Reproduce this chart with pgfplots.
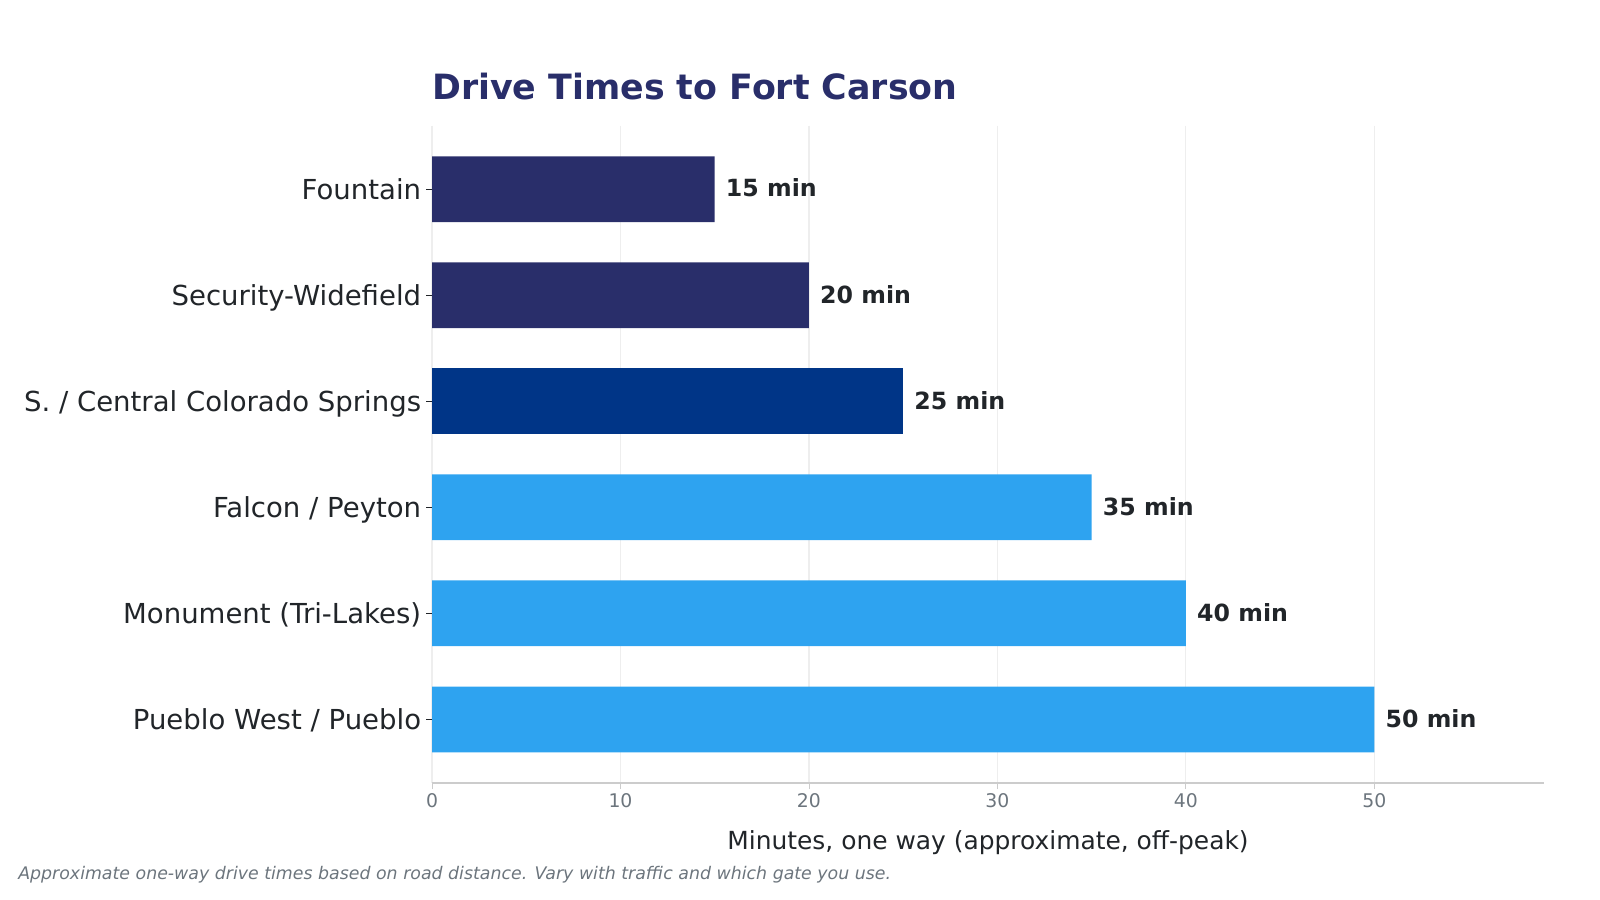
\documentclass[border=0pt]{standalone}
\usepackage{pgfplots}
\pgfplotsset{compat=1.18}
\usepackage{fontspec}
\setmainfont{DejaVu Sans}
\definecolor{navy}{HTML}{292E6A}
\definecolor{midblue}{HTML}{003587}
\definecolor{lightblue}{HTML}{2EA3F0}
\definecolor{txt}{HTML}{212529}
\definecolor{ticktxt}{HTML}{6C757D}
\definecolor{gridc}{HTML}{EEEEEE}
\definecolor{spinec}{HTML}{CCCCCC}
\begin{document}
\begin{tikzpicture}
\path[use as bounding box] (0,0) rectangle (16in,9in);
\begin{axis}[
  at={(4.32in,1.17in)}, anchor=south west, scale only axis,
  width=11.12in, height=6.575in,
  xbar, bar width=0.62, bar shift=0pt,
  xmin=0, xmax=59, ymin=-0.6, ymax=5.6, y dir=reverse,
  ytick={0,1,2,3,4,5},
  yticklabels={Fountain, Security-Widefield, S. / Central Colorado Springs, Falcon / Peyton, Monument (Tri-Lakes), Pueblo West / Pueblo},
  xtick={0,10,20,30,40,50},
  /pgf/number format/assume math mode=true,
  axis x line*=bottom, axis y line*=left,
  x axis line style={draw=spinec, line width=0.8pt, -},
  y axis line style={draw=none},
  xmajorgrids, major grid style={draw=gridc, line width=0.8pt},
  tick align=outside,
  xtick style={draw=spinec, line width=0.6pt},
  ytick style={draw=txt, line width=0.6pt},
  major tick length=0.06in,
  xticklabel style={font=\fontsize{13.6}{16}\selectfont, text=ticktxt},
  yticklabel style={font=\fontsize{19.9}{24}\selectfont, text=txt, anchor=base east, yshift=-0.105in},
  xlabel={Minutes, one way (approximate, off-peak)},
  xlabel style={font=\fontsize{18}{22}\selectfont, text=txt, at={(axis description cs:0.5,0)}, anchor=base, yshift=-0.66in},
  nodes near coords={\pgfmathprintnumber{\pgfplotspointmeta} min},
  nodes near coords style={anchor=west, inner sep=0pt, xshift=0.11in, yshift=0.01in, font=\bfseries\fontsize{17.1}{20}\selectfont, text=txt},
  clip=false,
]
\addplot[fill=navy, draw=none] coordinates {(15,0) (20,1)};
\addplot[fill=midblue, draw=none] coordinates {(25,2)};
\addplot[fill=lightblue, draw=none] coordinates {(35,3) (40,4) (50,5)};
\end{axis}
\node[anchor=base west, inner sep=0pt, text=navy, font=\bfseries\fontsize{25.15}{30}\selectfont] at (4.32in,8.0in) {Drive Times to Fort Carson};
\node[anchor=west, inner sep=0pt, text=ticktxt, font=\itshape\fontsize{12.55}{15}\selectfont] at (0.18in,0.255in) {Approximate one-way drive times based on road distance. Vary with traffic and which gate you use.};
\end{tikzpicture}
\end{document}
